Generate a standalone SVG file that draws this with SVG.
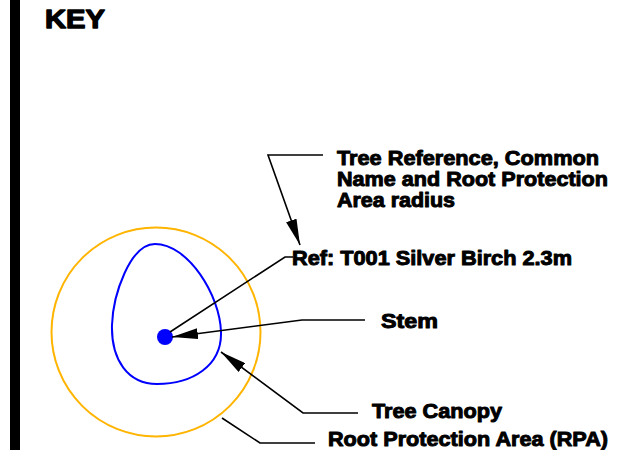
<svg xmlns="http://www.w3.org/2000/svg" width="637" height="450" viewBox="0 0 637 450">
<style>
.t{font-family:"Liberation Sans",Arial,sans-serif;font-weight:bold;fill:#000;stroke:#000;stroke-width:1;stroke-linejoin:round;}
.c{fill:none;stroke:#000;stroke-width:1.6;}
</style>
<defs>
<marker id="ah" viewBox="0 0 26 11" refX="26" refY="5.5" markerWidth="26" markerHeight="11" markerUnits="userSpaceOnUse" orient="auto">
<path d="M0,0 L26,5.5 L0,11 Z" fill="#000"/>
</marker>
</defs>
<rect x="10" y="0" width="10" height="450" fill="#000"/>
<g id="title"><text class="t" x="45" y="28" font-size="26" textLength="60" lengthAdjust="spacingAndGlyphs" style="stroke-width:1.3">KEY</text></g>
<g id="rpa"><circle cx="156" cy="332" r="104.5" fill="none" stroke="#FFB400" stroke-width="2"/></g>
<g id="canopy"><path d="M155,244 C130,244 113,295 112,325 C111,360 128,384 157,384 C192,384 222,366 221,332 C220,295 188,244 155,244 Z" fill="none" stroke="#0000FF" stroke-width="2"/></g>
<g id="stem"><circle cx="165" cy="337" r="8" fill="#0000FF"/></g>
<g id="connectors">
<polyline class="c" points="323,155 268,155 300,245" marker-end="url(#ah)"/>
<polyline class="c" points="293,257 285,257 170,332"/>
<polyline class="c" points="365,320 302,320 172,337" marker-end="url(#ah)"/>
<polyline class="c" points="358,413 303,413 221,352" marker-end="url(#ah)"/>
<polyline class="c" points="222,418 260,443 315,443"/>
</g>
<g id="label-ref-desc">
<text class="t" x="337" y="165" font-size="21" textLength="262" lengthAdjust="spacingAndGlyphs">Tree Reference, Common</text>
<text class="t" x="337" y="186" font-size="21" textLength="271" lengthAdjust="spacingAndGlyphs">Name and Root Protection</text>
<text class="t" x="337" y="207" font-size="21" textLength="118" lengthAdjust="spacingAndGlyphs">Area radius</text>
</g>
<g id="label-ref"><text class="t" x="292" y="265" font-size="21" textLength="280" lengthAdjust="spacingAndGlyphs">Ref: T001 Silver Birch 2.3m</text></g>
<g id="label-stem"><text class="t" x="381" y="328" font-size="21" textLength="57" lengthAdjust="spacingAndGlyphs">Stem</text></g>
<g id="label-canopy"><text class="t" x="372" y="418" font-size="21" textLength="130" lengthAdjust="spacingAndGlyphs">Tree Canopy</text></g>
<g id="label-rpa"><text class="t" x="328" y="446" font-size="21" textLength="280" lengthAdjust="spacingAndGlyphs">Root Protection Area (RPA)</text></g>
</svg>
